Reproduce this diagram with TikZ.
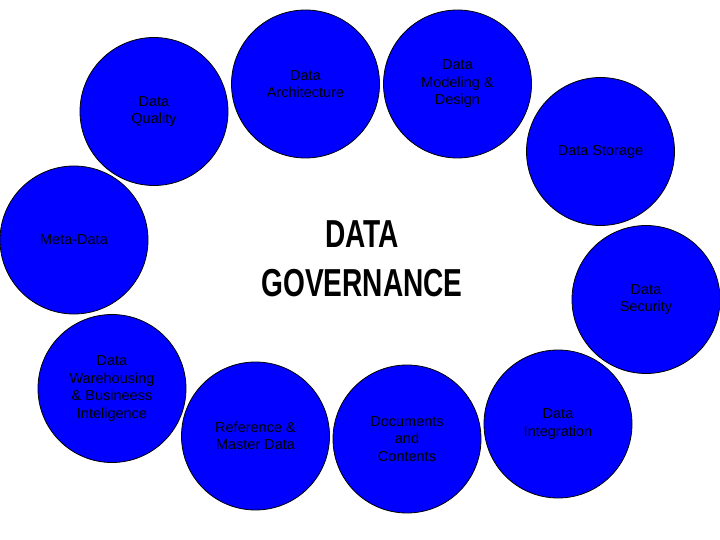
\documentclass[tikz,border=0pt]{standalone}
\usepackage{fontspec}
\setmainfont{Liberation Sans}
\usepackage{tikz}
\usetikzlibrary{shapes.geometric, positioning, calc}

\definecolor{areablue}{RGB}{0,0,255}

\tikzset{
  area/.style={circle, draw=black, line width=0.8pt, fill=areablue,
    minimum size=148pt, inner sep=0pt, align=center,
    font=\fontsize{14.5}{17.5}\selectfont},
  govtitle/.style={inner sep=0pt, font=\bfseries\fontsize{39}{49}\selectfont}
}

\begin{document}
\begin{tikzpicture}[x=1pt, y=-1pt]

  % --- Page frame ---
  \useasboundingbox (0,0) rectangle (720,540);

  % --- Knowledge areas (clockwise from top left) ---
  \node[area] (quality) at (154,111.5) {Data\\Quality};
  \node[area] (architecture) at (305.5,84) {Data\\Architecture};
  \node[area] (modeling) at (457.5,84) {Data\\Modeling \&\\Design};
  \node[area] (storage) at (600.5,151.5) {Data Storage};
  \node[area] (security) at (646,299.5) {Data\\Security};
  \node[area] (integration) at (558,424) {Data\\Integration};
  \node[area] (documents) at (407,439) {Documents\\and\\Contents};
  \node[area] (reference) at (255.5,436) {Reference \&\\Master Data};
  \node[area] (warehousing) at (112,388.5) {Data\\Warehousing\\\& Busineess\\Inteligence};
  \node[area] (metadata) at (74,240) {Meta-Data};

  % --- Title in the middle ---
  \node[govtitle] (governance) at (362,262.5)
    {\scalebox{0.72}[1]{\begin{tabular}{@{}c@{}}DATA\\GOVERNANCE\end{tabular}}};

\end{tikzpicture}
\end{document}
